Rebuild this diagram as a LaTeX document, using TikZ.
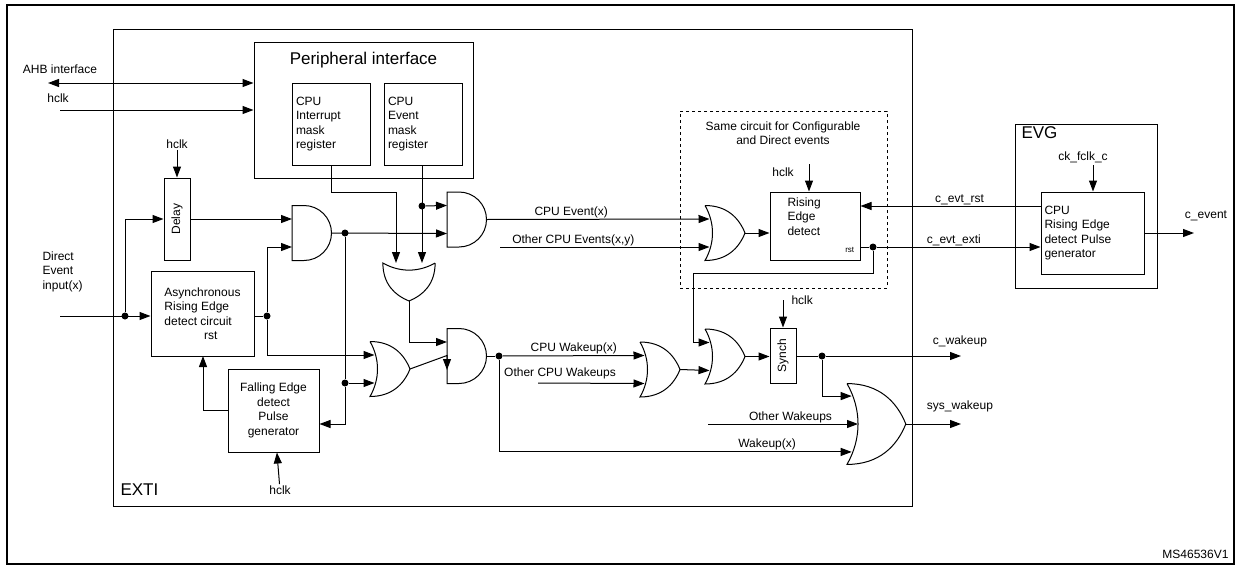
\documentclass[tikz,border=0pt]{standalone}
\usepackage{fontspec}
\setmainfont{Liberation Sans}
\usetikzlibrary{arrows.meta,positioning}

\tikzset{
  box/.style={draw,inner sep=0pt},
  txt/.style={font=\fontsize{12}{14.5}\selectfont,inner sep=1pt},
  big/.style={font=\fontsize{17}{20}\selectfont,inner sep=0pt},
  dot/.style={circle,fill,inner sep=0pt,minimum size=7pt},
  andg/.pic={
    \draw (0,-27.5) -- (12,-27.5) arc(-90:90:27.5) -- (0,27.5) -- cycle;
    \coordinate (-in1) at (0,-14);
    \coordinate (-in2) at (0,14);
    \coordinate (-out) at (39.5,0);
  },
  org/.pic={
    \draw (0,-27.5) .. controls (10,-10) and (10,10) .. (0,27.5)
      .. controls (22,27.5) and (34,15) .. (40,0)
      .. controls (34,-15) and (22,-27.5) .. (0,-27.5);
    \coordinate (-in1) at (4.5,-14);
    \coordinate (-in2) at (4.5,14);
    \coordinate (-ina) at (3.2,-19);
    \coordinate (-inm) at (7.5,0);
    \coordinate (-inb) at (3.2,19);
    \coordinate (-out) at (40,0);
  },
}

\begin{document}
\begin{tikzpicture}[x=1pt,y=-1pt,line width=1pt,>={Triangle[length=11pt,width=8pt]}]
\useasboundingbox (0,0) rectangle (1235,565);
\draw[line width=1.6pt] (7,5) rectangle (1234,564);
\draw (113,29) rectangle (912,506);
\node[big,anchor=south west] at (120,496) {EXTI};
\node[txt,anchor=south east] at (1230,560) {MS46536V1};

% peripheral interface
\node[box,minimum width=219,minimum height=136] (periph) at (363.5,110) {};
\node[big] at (363.5,60) {Peripheral interface};
\node[box,txt,align=left,minimum width=78,minimum height=82,text width=70] (intmask) at (331,124) {CPU\\Interrupt\\mask\\register};
\node[box,txt,align=left,minimum width=78,minimum height=82,text width=70] (evtmask) at (423,124) {CPU\\Event\\mask\\register};

\coordinate (ahbL) at (48,83);
\coordinate (hclkL) at (60,110);
\node[txt] at (60,69) {AHB interface};
\node[txt] at (58,98) {hclk};
\draw[<->] (ahbL) -- (ahbL -| periph.west);
\draw[->] (hclkL) -- (hclkL -| periph.west);

% delay and async
\node[box,minimum width=26,minimum height=82] (delay) at (177,219) {};
\node[txt,rotate=90] at (delay) {Delay};
\node[txt] (hclkD) at (177,144) {hclk};
\draw[->] (hclkD) -- (delay);
\node[box,txt,align=left,minimum width=103,minimum height=85] (async) at (202.5,313.5)
  {Asynchronous\\Rising Edge\\detect circuit\\\hspace*{3.3em}rst};
\node[box,txt,align=center,minimum width=91,minimum height=83] (fall) at (273.5,410.5)
  {Falling Edge\\detect\\Pulse\\generator};
\node[txt] (hclkF) at (280,490) {hclk};
\draw[->] (hclkF) -- (fall);
\node[txt,align=left,anchor=north west] at (41,250) {Direct\\Event\\input(x)};
\coordinate (dirL) at (60,316);
\node[dot] (d1) at (125,316) {};
\draw[->] (dirL) -- (async.west |- dirL);
\draw[->] (d1) |- (delay.west);

% gates
\pic (a1) at (292,233) {andg};
\pic (a2) at (447,219.5) {andg};
\pic (a3) at (447,356) {andg};
\pic (o1) at (409,263) [rotate=-90,scale=0.95] {org};
\pic (o2) at (370,369) {org};
\pic (o3) at (640,369.5) {org};
\pic (o4) at (705,233) {org};
\pic (o5) at (705,356.5) {org};
\pic (o6) at (847,424) [scale=1.47] {org};

\draw[->] (delay.east |- a1-in1) -- (a1-in1);
\node[dot] (d2) at (267,316) {};
\draw (async.east |- d2) -- (d2);
\draw[->] (d2) |- (a1-in2);
\draw[->] (d2) |- (o2-in1);
\node[dot] (d3) at (345,233) {};
\draw[->] (a1-out) -- (a2-in2);
\node[dot] (d4) at (345,383) {};
\draw (d3) -- (d4);
\draw[->] (d4) -- (o2-in2);
\draw[->] (d4) |- (fall.east |- 0,424);
\draw[->] (fall.west |- 0,410) -| (203,356);
\draw[->] (o2-out) -- (o3-in1 -| a3-in2) -- (a3-in2);

% mask registers
\draw[->] (intmask.south) |- (396,192) -- (396,263);
\node[dot] (d5) at (422,206) {};
\draw[->] (evtmask.south -| d5) -- (422,263);
\draw[->] (d5) -- (a2-in1);
\draw[->] (o1-out) |- (a3-in1);

% events
\draw[->] (a2-out) -- node[txt,above,pos=0.38] {CPU Event(x)} (o4-in1);
\coordinate (othEv) at (500,247);
\draw[->] (othEv) -- node[txt,above,pos=0.35] {Other CPU Events(x,y)} (o4-in2);

\node[draw,dashed,minimum width=207,minimum height=177] (same) at (783.5,199.5) {};
\node[txt,align=center] at (783,133) {Same circuit for Configurable\\and Direct events};
\node[box,minimum width=90,minimum height=68] (rise) at (815,226) {};
\node[txt,align=left,anchor=north west] at (786,196) {Rising\\Edge\\detect};
\node[font=\fontsize{8}{9}\selectfont,anchor=south east] at (858,256) {rst};
\node[txt] (hclkR) at (783,172) {hclk};
\coordinate (hclkRt) at (809,164);
\draw[->] (hclkRt) -- (hclkRt |- rise.north);
\draw[->] (o4-out) -- (rise.west |- o4-out);

% EVG
\node[box,minimum width=142,minimum height=164] (evg) at (1086,206) {};
\node[big,anchor=north west] at (1021,126) {EVG};
\node[box,txt,align=left,minimum width=103,minimum height=82,text width=96] (pulse) at (1092.5,233)
  {CPU\\Rising Edge\\detect Pulse\\generator};
\node[txt] (ckf) at (1083,157) {ck\_fclk\_c};
\coordinate (ckft) at (1093,165);
\draw[->] (ckft) -- (ckft |- pulse.north);
\draw[->] (pulse.west |- 0,206) -- node[txt,above,pos=0.45] {c\_evt\_rst} (rise.east |- 0,206);
\node[dot] (d6) at (873,247) {};
\draw (rise.east |- d6) -- (d6);
\draw[->] (d6) -- node[txt,above,pos=0.47] {c\_evt\_exti} (pulse.west |- d6);
\coordinate (cev) at (1194,233);
\draw[->] (pulse.east |- cev) -- (cev);
\node[txt] at (1206,216) {c\_event};

% wakeups
\node[dot] (d7) at (499,356) {};
\draw (a3-out) -- (d7);
\draw[->] (d7) -- node[txt,above,pos=0.5] {CPU Wakeup(x)} (o3-in1);
\coordinate (othW) at (538,383);
\draw[->] (othW) -- (o3-in2);
\node[txt] at (560,373) {Other CPU Wakeups};
\draw[->] (o3-out) -- (o5-in2);
\draw[->] (d6) |- (693,273) |- (o5-in1);
\node[box,minimum width=26,minimum height=55] (synch) at (783,355.5) {};
\node[txt,rotate=90] at (synch) {Synch};
\coordinate (hclkSt) at (783,300);
\node[txt,anchor=west] at (790,300) {hclk};
\draw[->] (hclkSt) -- (synch.north);
\draw[->] (o5-out) -- (synch.west |- o5-out);
\node[dot] (d8) at (822,356) {};
\draw (synch.east |- d8) -- (d8);
\coordinate (cwk) at (961,356);
\draw[->] (d8) -- (cwk);
\node[txt] at (960,341) {c\_wakeup};
\draw[->] (d8) |- (o6-ina);
\coordinate (othWk) at (708,424);
\draw[->] (othWk) -- node[txt,above,pos=0.55] {Other Wakeups} (o6-inm);
\draw[->] (d7) |- node[txt,above,pos=0.88] {Wakeup(x)} (o6-inb);
\coordinate (swk) at (961,424);
\draw[->] (o6-out) -- (swk);
\node[txt] at (960,406) {sys\_wakeup};
\end{tikzpicture}
\end{document}
